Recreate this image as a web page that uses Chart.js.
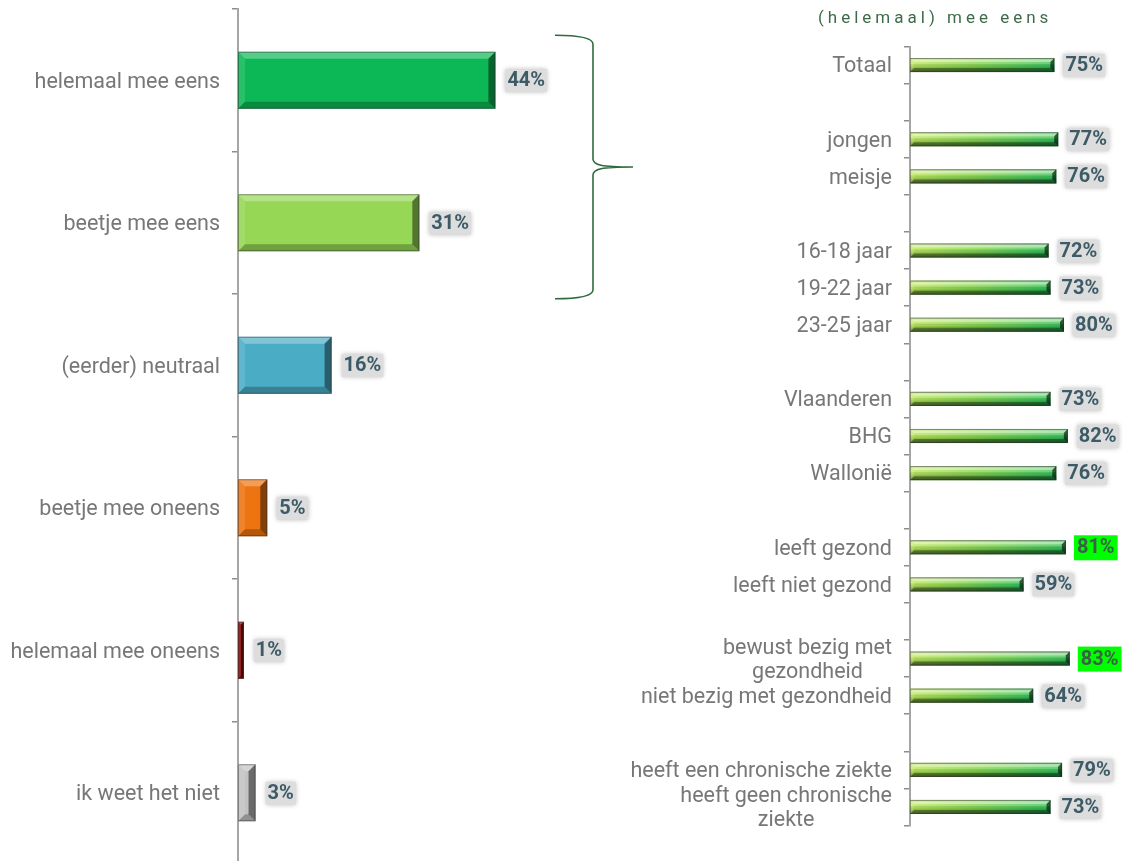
<!DOCTYPE html>
<html>
<head>
<meta charset="utf-8">
<script src="https://cdn.jsdelivr.net/npm/chart.js@4.4.0/dist/chart.umd.min.js"></script>
<style>
  html, body { margin: 0; padding: 0; background: #fff; overflow: hidden; }
  #wrap { position: relative; width: 1123px; height: 861px; }
  #left { position: absolute; left: 0; top: 0; }
  #right { position: absolute; left: 620px; top: 0; }
  #title { position: absolute; left: 818px; top: 7px; font: 17px Roboto; letter-spacing: 4px; color: #3d6b47; white-space: nowrap; }
</style>
</head>
<body>
<div id="wrap">
  <canvas id="left" width="640" height="866"></canvas>
  <canvas id="right" width="503" height="861"></canvas>
  <div id="title">(helemaal) mee eens</div>
</div>

<script>
// answer distribution (left)
var answers = ['helemaal mee eens', 'beetje mee eens', '(eerder) neutraal', 'beetje mee oneens', 'helemaal mee oneens', 'ik weet het niet'];
var answerShares = [44, 31, 16, 5, 1, 3];
var answerColors = ['#0cb856', '#96d755', '#4bacc6', '#ee7411', '#8b0a0a', '#c2c2c2'];

// (helemaal) mee eens per group (right), '' rows are spacers
var groups = ['Totaal', '', 'jongen', 'meisje', '', '16-18 jaar', '19-22 jaar', '23-25 jaar', '',
  'Vlaanderen', 'BHG', 'Wallonië', '', 'leeft gezond', 'leeft niet gezond', '',
  ['bewust bezig met', 'gezondheid'], 'niet bezig met gezondheid', '',
  'heeft een chronische ziekte', ['heeft geen chronische', 'ziekte']];
var agreeShares = [75, null, 77, 76, null, 72, 73, 80, null, 73, 82, 76, null, 81, 59, null, 83, 64, null, 79, 73];
var highlighted = ['leeft gezond', 'bewust bezig met gezondheid'];

var labelFont = 'Roboto';
var labelSize = 21.5;

function poly(ctx, pts) {
  ctx.beginPath();
  ctx.moveTo(pts[0][0], pts[0][1]);
  for (var i = 1; i < pts.length; i++) ctx.lineTo(pts[i][0], pts[i][1]);
  ctx.closePath();
  ctx.fill();
}

// 3d bevel over a flat bar
function bevel(ctx, x0, y0, x1, y1, b, strength) {
  b = Math.min(b, (x1 - x0) / 2, (y1 - y0) / 2);
  var s = strength || 1;
  ctx.save();
  ctx.fillStyle = 'rgba(255,255,255,' + 0.3 * s + ')';
  poly(ctx, [[x0, y0], [x1, y0], [x1 - b, y0 + b], [x0 + b, y0 + b]]);
  ctx.fillStyle = 'rgba(255,255,255,' + 0.12 * s + ')';
  poly(ctx, [[x0, y0], [x0 + b, y0 + b], [x0 + b, y1 - b], [x0, y1]]);
  ctx.fillStyle = 'rgba(0,0,0,' + 0.25 * s + ')';
  poly(ctx, [[x0, y1], [x1, y1], [x1 - b, y1 - b], [x0 + b, y1 - b]]);
  ctx.fillStyle = 'rgba(0,0,0,' + 0.45 * s + ')';
  poly(ctx, [[x1, y0], [x1, y1], [x1 - b, y1 - b], [x1 - b, y0 + b]]);
  ctx.strokeStyle = 'rgba(40,40,40,0.45)';
  ctx.lineWidth = 1;
  ctx.strokeRect(x0 + 0.5, y0 + 0.5, x1 - x0 - 1, y1 - y0 - 1);
  ctx.restore();
}

function valueLabel(ctx, text, x, y, hi) {
  ctx.save();
  ctx.font = 'bold 20px ' + labelFont;
  var w = ctx.measureText(text).width;
  if (hi) {
    ctx.fillStyle = '#00ff00';
    ctx.fillRect(x - 3, y - 12, w + 6, 25);
  } else {
    ctx.shadowColor = 'rgba(0,0,0,0.3)';
    ctx.shadowBlur = 5;
    ctx.fillStyle = '#dddddd';
    ctx.fillRect(x - 2, y - 11, w + 4, 23);
  }
  ctx.restore();
  ctx.save();
  ctx.font = 'bold 20px ' + labelFont;
  ctx.fillStyle = hi ? '#3a6048' : '#3c5b66';
  ctx.textBaseline = 'middle';
  ctx.fillText(text, x, y + 1);
  ctx.restore();
}

var leftDecor = {
  id: 'leftDecor',
  afterDatasetsDraw: function (chart) {
    var ctx = chart.ctx;
    chart.getDatasetMeta(0).data.forEach(function (el, i) {
      var p = el.getProps(['x', 'y', 'base', 'height'], true);
      bevel(ctx, p.base, p.y - p.height / 2, p.x, p.y + p.height / 2, 7, 1);
      valueLabel(ctx, answerShares[i] + '%', p.x + 12, p.y, false);
    });
  },
  afterDraw: function (chart) {
    // brace grouping the two "eens" answers
    var ctx = chart.ctx, ys = chart.scales.y, a = chart.chartArea;
    var top = ys.getPixelForValue(0) - 45, bot = ys.getPixelForValue(1) + 76;
    var mid = (top + bot) / 2;
    var x0 = a.left + 317, xv = a.left + 355, xt = a.left + 395;
    ctx.save();
    ctx.strokeStyle = '#2f6b3f';
    ctx.lineWidth = 1.6;
    ctx.beginPath();
    ctx.moveTo(x0, top);
    ctx.quadraticCurveTo(xv, top, xv, top + 9);
    ctx.lineTo(xv, mid - 8);
    ctx.bezierCurveTo(xv, mid - 2, xv + 8, mid, xt, mid);
    ctx.bezierCurveTo(xv + 8, mid, xv, mid + 2, xv, mid + 8);
    ctx.lineTo(xv, bot - 9);
    ctx.quadraticCurveTo(xv, bot, x0, bot);
    ctx.stroke();
    ctx.restore();
  }
};

function noLabelPadding(s) {
  s.paddingTop = 0;
  s.paddingBottom = 0;
}

new Chart(document.getElementById('left'), {
  type: 'bar',
  data: {
    labels: answers,
    datasets: [{
      data: answerShares,
      backgroundColor: answerColors,
      categoryPercentage: 1,
      barPercentage: 0.4
    }]
  },
  options: {
    indexAxis: 'y',
    responsive: false,
    animation: false,
    layout: { padding: { top: 9, bottom: 2, left: 0, right: 51 } },
    plugins: { legend: { display: false }, tooltip: { enabled: false } },
    scales: {
      x: { display: false, min: 0, max: 60 },
      y: {
        afterFit: function (s) { s.width = 238; noLabelPadding(s); },
        border: { color: '#a6a6a6', width: 2 },
        grid: { drawOnChartArea: false, tickLength: 6, color: '#8c8c8c', lineWidth: 1.5 },
        ticks: { color: '#777777', font: { family: labelFont, size: labelSize }, padding: 12, labelOffset: 2 }
      }
    }
  },
  plugins: [leftDecor]
});

var rightDecor = {
  id: 'rightDecor',
  afterDatasetsDraw: function (chart) {
    var ctx = chart.ctx;
    chart.getDatasetMeta(0).data.forEach(function (el, i) {
      if (agreeShares[i] == null) return;
      var p = el.getProps(['x', 'y', 'base', 'height'], true);
      var y0 = p.y - p.height / 2, y1 = p.y + p.height / 2;
      ctx.save();
      var g = ctx.createLinearGradient(0, y0, 0, y1);
      g.addColorStop(0, 'rgba(60,90,30,0.25)');
      g.addColorStop(0.15, 'rgba(255,255,200,0.35)');
      g.addColorStop(0.4, 'rgba(255,255,220,0.25)');
      g.addColorStop(0.55, 'rgba(0,0,0,0.05)');
      g.addColorStop(1, 'rgba(0,40,10,0.5)');
      ctx.fillStyle = g;
      ctx.fillRect(p.base, y0, p.x - p.base, y1 - y0);
      ctx.restore();
      bevel(ctx, p.base, y0, p.x, y1, 4, 1.3);
      var name = [].concat(groups[i]).join(' ');
      valueLabel(ctx, agreeShares[i] + '%', p.x + 11, p.y, highlighted.indexOf(name) >= 0);
    });
  },
  afterDraw: function (chart) {
    // category names, multi-line ones centred as a block
    var ctx = chart.ctx, ys = chart.scales.y;
    var right = chart.chartArea.left - 18, lh = 24;
    ctx.save();
    ctx.font = labelSize + 'px ' + labelFont;
    ctx.fillStyle = '#777777';
    ctx.textAlign = 'center';
    ctx.textBaseline = 'middle';
    groups.forEach(function (g, i) {
      var lines = [].concat(g);
      var w = Math.max.apply(null, lines.map(function (t) { return ctx.measureText(t).width; }));
      var y = ys.getPixelForValue(i) + 2 - (lines.length - 1) * lh / 2;
      lines.forEach(function (t, k) { ctx.fillText(t, right - w / 2, y + k * lh); });
    });
    ctx.restore();
  }
};

new Chart(document.getElementById('right'), {
  type: 'bar',
  data: {
    labels: groups,
    datasets: [{
      data: agreeShares,
      backgroundColor: function (c) {
        var xs = c.chart.scales.x;
        if (!xs || c.raw == null) return '#7ccf4e';
        var x0 = xs.getPixelForValue(0), x1 = xs.getPixelForValue(c.raw);
        if (!isFinite(x0) || !isFinite(x1) || x1 <= x0) return '#7ccf4e';
        var g = c.chart.ctx.createLinearGradient(x0, 0, x1, 0);
        g.addColorStop(0, '#b6e45a');
        g.addColorStop(0.45, '#7fd24e');
        g.addColorStop(1, '#2fbf5a');
        return g;
      },
      categoryPercentage: 1,
      barPercentage: 0.38
    }]
  },
  options: {
    indexAxis: 'y',
    responsive: false,
    animation: false,
    layout: { padding: { top: 46.5, bottom: 35.5, left: 0, right: 20.5 } },
    plugins: { legend: { display: false }, tooltip: { enabled: false } },
    scales: {
      x: { display: false, min: 0, max: 100 },
      y: {
        afterFit: function (s) { s.width = 290; noLabelPadding(s); },
        border: { color: '#a6a6a6', width: 2 },
        grid: { drawOnChartArea: false, tickLength: 6, color: '#8c8c8c', lineWidth: 1.5 },
        ticks: { display: false }
      }
    }
  },
  plugins: [rightDecor]
});
</script>
</body>
</html>
